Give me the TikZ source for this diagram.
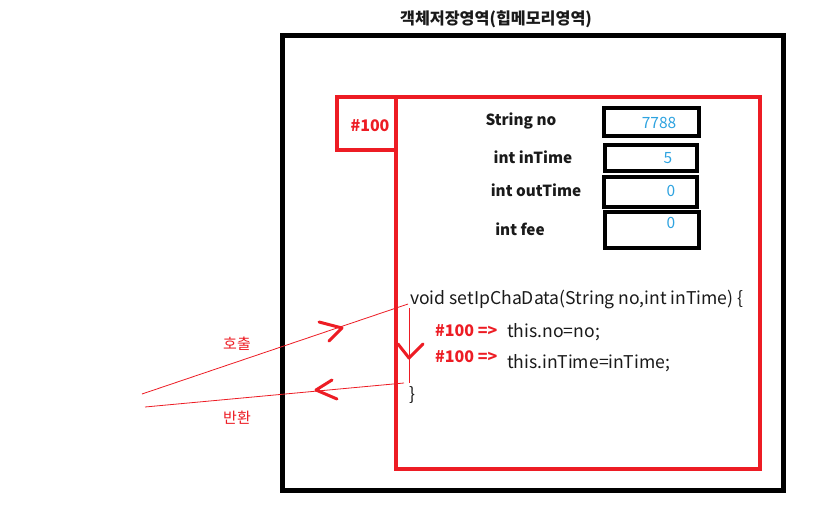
\documentclass[tikz,border=0pt]{standalone}
\usepackage{fontspec}
\setmainfont{Noto Sans CJK KR}
\newfontfamily\kr{Noto Sans CJK KR}
\definecolor{pred}{HTML}{ED1C24}
\definecolor{pblue}{HTML}{2EA3E0}
\definecolor{ptext}{HTML}{1A1A1A}
\begin{document}
\begin{tikzpicture}[x=1pt,y=-1pt,
  lbl/.style={font=\fontsize{15.3}{17}\selectfont\bfseries, text=ptext, inner sep=0pt},
  val/.style={font=\fontsize{15.5}{17}\selectfont, text=pblue, inner sep=0pt},
  vbox/.style={draw=black, line width=4pt},
  code/.style={font=\fontsize{17.6}{20}\selectfont, text=ptext, inner sep=0pt, anchor=west},
  redb/.style={font=\fontsize{16}{18}\selectfont\bfseries, text=pred, inner sep=0pt, anchor=west},
  chev/.style={draw=pred, line width=3pt, line cap=round, line join=round},
  thin/.style={draw=pred, line width=0.8pt}]
\useasboundingbox (0,0) rectangle (836,525);
\fill[white] (0,0) rectangle (836,525);
% title
\node[font=\fontsize{16.2}{18}\selectfont\bfseries, text=ptext, inner sep=0pt] (title) at (496,19) {객체저장영역(힙메모리영역)};
% outer black area
\draw[line width=5pt] (282.5,35.5) rectangle (783.5,490.5);
% red object
\draw[pred, line width=4pt] (396,97) rectangle (760,469);
\draw[pred, line width=4pt] (337,97) rectangle (396,150);
\node[font=\fontsize{16}{18}\selectfont\bfseries, text=pred, inner sep=0pt] (addr) at (370,126) {\#100};
% fields
\node[lbl] (f1) at (521,121) {String no};
\node[lbl] (f2) at (533,157) {int inTime};
\node[lbl] (f3) at (536,190) {int outTime};
\node[lbl] (f4) at (520,229) {int fee};
\draw[vbox] (604,108) rectangle (699,136);
\draw[vbox] (605,145) rectangle (697,171);
\draw[vbox] (604,177) rectangle (697,207);
\draw[vbox] (605,212) rectangle (699,248);
\node[val] (v1) at (659,123) {7788};
\node[val] (v2) at (668,158) {5};
\node[val] (v3) at (671,191) {0};
\node[val] (v4) at (671,223) {0};
% code
\node[code] (sig) at (410,299) {void setIpChaData(String no,int inTime) \{};
\node[redb] (h1) at (435,331) {\#100 =>};
\node[code] (s1) at (507,332) {this.no=no;};
\node[redb] (h2) at (435,357) {\#100 =>};
\node[code] (s2) at (507,363) {this.inTime=inTime;};
\node[code] (close) at (409,395) {\}};
% execution flow
\coordinate (ct) at (409,308);
\coordinate (cb) at (409,383);
\draw[thin] (ct) -- (cb);
\draw[chev] (398,344) -- (409,358) -- (423,344);
% call / return
\coordinate (caller) at (142,394);
\coordinate (callee) at (408,304);
\coordinate (ret) at (404,383);
\coordinate (retend) at (145,407);
\draw[thin] (caller) -- (callee);
\draw[thin] (ret) -- (retend);
\draw[chev] (319,322) -- (342,328) -- (329,341);
\draw[chev] (332,380) -- (316,390) -- (337,399);
\node[font=\fontsize{15}{17}\selectfont, text=pred, inner sep=0pt] (call) at (237,344) {호출};
\node[font=\fontsize{15}{17}\selectfont, text=pred, inner sep=0pt] (back) at (237,418) {반환};
\end{tikzpicture}
\end{document}
